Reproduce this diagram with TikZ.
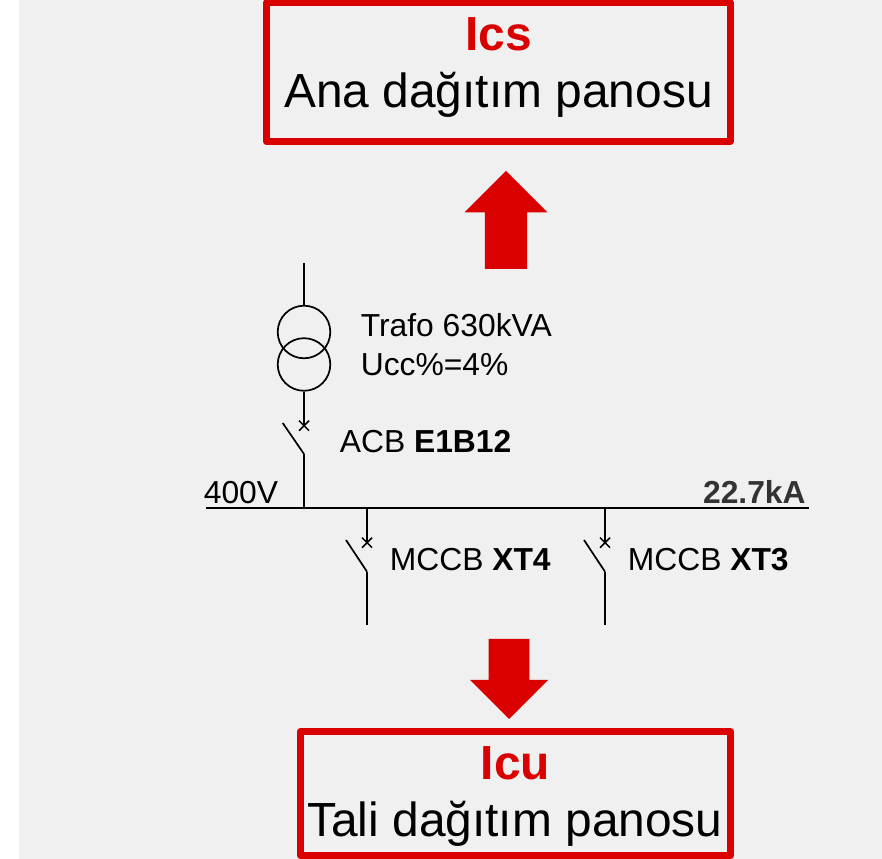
\documentclass[tikz,border=0pt]{standalone}
\usepackage{fontspec}
\setmainfont{Liberation Sans}
\usetikzlibrary{shapes.arrows,shapes.misc}
\definecolor{panelred}{HTML}{DA0000}
\definecolor{panelgray}{HTML}{F0F0F0}
\tikzset{
  panelbox/.style={rectangle,draw=panelred,line width=0.14cm,line join=round},
  bigarrow/.style={single arrow,fill=panelred,outer sep=0pt},
  boxtext/.style={anchor=base,inner sep=0pt,font=\fontsize{27.25}{32}\selectfont},
  linetext/.style={anchor=base west,inner sep=0pt,font=\fontsize{18.1}{22}\selectfont},
  wire/.style={line width=0.034cm},
  tripmark/.style={cross out,draw,line width=0.03cm,minimum size=0.17cm,inner sep=0pt},
  winding/.style={circle,draw,line width=0.034cm,minimum size=1.052cm,inner sep=0pt}
}

\begin{document}
\begin{tikzpicture}
\useasboundingbox (0,0) rectangle (17.64,17.18);
\fill[panelgray] (0.38,0) rectangle (17.64,17.18);

\node[panelbox,minimum width=9.27cm,minimum height=2.77cm] (icsbox) at (9.965,15.735) {};
\node[boxtext,text=panelred,font=\fontsize{27.25}{32}\selectfont\bfseries] (icstext) at (9.97,16.16) {Ics};
\node[boxtext] (anatext) at (9.97,15.02) {Ana dağıtım panosu};

\node[bigarrow,shape border rotate=90,anchor=tail,minimum height=1.96cm,minimum width=1.64cm,inner sep=0.415cm,single arrow head extend=0.405cm] (uparrow) at (10.12,11.80) {};

\coordinate (trafotop) at (6.08,11.92);
\node[winding] (trafo1) at (6.08,10.54) {};
\node[winding] (trafo2) at (6.08,9.89) {};
\node[linetext] (trafotext) at (7.21,10.44) {Trafo 630kVA};
\node[linetext] (ucctext) at (7.21,9.674) {Ucc\%=4\%};

\node[tripmark] (acbtrip) at (6.08,8.666) {};
\coordinate (acbhinge) at (6.08,8.10);
\coordinate (acbblade) at (5.654,8.72);
\coordinate (acbbus) at (6.08,7.02);
\node[linetext] (acbtext) at (6.79,8.12) {ACB \textbf{E1B12}};

\coordinate (busleft) at (4.12,7.02);
\coordinate (busright) at (16.18,7.02);
\node[linetext] (voltext) at (4.07,7.11) {400V};
\node[linetext,anchor=base east,text=black!80] (katext) at (16.12,7.11) {\textbf{22.7kA}};

\coordinate (xt4bus) at (7.34,7.02);
\node[tripmark] (xt4trip) at (7.34,6.326) {};
\coordinate (xt4hinge) at (7.34,5.746);
\coordinate (xt4blade) at (6.92,6.38);
\coordinate (xt4end) at (7.34,4.68);
\node[linetext] (xt4text) at (7.79,5.76) {MCCB \textbf{XT4}};

\coordinate (xt3bus) at (12.10,7.02);
\node[tripmark] (xt3trip) at (12.10,6.326) {};
\coordinate (xt3hinge) at (12.10,5.746);
\coordinate (xt3blade) at (11.68,6.38);
\coordinate (xt3end) at (12.10,4.68);
\node[linetext] (xt3text) at (12.55,5.76) {MCCB \textbf{XT3}};

\node[bigarrow,shape border rotate=270,anchor=tail,minimum height=1.6cm,minimum width=1.555cm,inner sep=0.4cm,single arrow head extend=0.376cm] (downarrow) at (10.18,4.40) {};

\node[panelbox,minimum width=8.6cm,minimum height=2.48cm] (icubox) at (10.31,1.31) {};
\node[boxtext,text=panelred,font=\fontsize{27.25}{32}\selectfont\bfseries] (icutext) at (10.31,1.58) {Icu};
\node[boxtext] (talitext) at (10.30,0.446) {Tali dağıtım panosu};

\draw[wire] (trafotop) -- (trafo1);
\draw[wire] (trafo2) -- (acbtrip.center);
\draw[wire] (acbblade) -- (acbhinge);
\draw[wire] (acbhinge) -- (acbbus);
\draw[wire] (busleft) -- (busright);
\draw[wire] (xt4bus) -- (xt4trip.center);
\draw[wire] (xt4blade) -- (xt4hinge);
\draw[wire] (xt4hinge) -- (xt4end);
\draw[wire] (xt3bus) -- (xt3trip.center);
\draw[wire] (xt3blade) -- (xt3hinge);
\draw[wire] (xt3hinge) -- (xt3end);
\end{tikzpicture}
\end{document}
